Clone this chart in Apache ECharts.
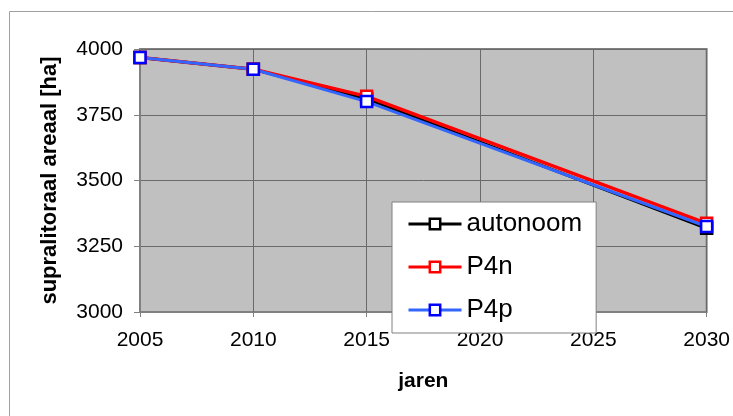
<!DOCTYPE html>
<html>
<head>
<meta charset="utf-8">
<script src="https://cdn.jsdelivr.net/npm/echarts@6/dist/echarts.min.js"></script>
<style>
  html, body { margin: 0; padding: 0; background: #fff; }
  #chart { width: 733px; height: 416px; }
</style>
</head>
<body>
<div id="chart"></div>
<script>
'use strict';

// jaren met meetpunten
var years = [2005, 2010, 2015, 2030];
var autonoom = [3968, 3923, 3810, 3318];
var p4n = [3968, 3923, 3820, 3337];
var p4p = [3968, 3923, 3800, 3325];

var seriesNames = ['autonoom', 'P4n', 'P4p'];
var yTicks = [3000, 3250, 3500, 3750, 4000];
var xTicks = [2005, 2010, 2015, 2020, 2025, 2030];

function pairs(xs, ys) {
    return xs.map(function(x, i) { return [x, ys[i]]; });
}

function makeSeries(name, values, lineColor, markColor, width) {
    return {
        name: name,
        type: 'line',
        data: pairs(years, values),
        symbol: 'rect',
        symbolSize: 11,
        showAllSymbol: true,
        lineStyle: { color: lineColor, width: width },
        itemStyle: { color: '#ffffff', borderColor: markColor, borderWidth: 2.5 }
    };
}

var font = 'Liberation Sans, Arial, sans-serif';
var myChart = echarts.init(document.getElementById('chart'));

var option = {
    animation: false,
    backgroundColor: '#ffffff',
    graphic: [{
        type: 'rect',
        shape: { x: 9.5, y: 11.5, width: 800, height: 500 },
        style: { fill: 'none', stroke: '#a0a0a0', lineWidth: 1 },
        silent: true
    }],
    grid: {
        left: 140, right: 24, top: 49, bottom: 104,
        show: true,
        backgroundColor: '#c0c0c0',
        borderColor: '#808080',
        borderWidth: 2
    },
    legend: {
        data: seriesNames,
        orient: 'vertical',
        left: 392,
        top: 202,
        padding: [7, 14, 8, 15],
        itemWidth: 53,
        itemHeight: 13,
        itemGap: 13,
        backgroundColor: '#ffffff',
        borderColor: '#808080',
        borderWidth: 1,
        lineStyle: { width: 3 },
        itemStyle: { borderWidth: 2.5 },
        textStyle: { fontFamily: font, fontSize: 26, color: '#000', lineHeight: 30 }
    },
    xAxis: {
        type: 'value',
        min: xTicks[0],
        max: xTicks[xTicks.length - 1],
        interval: 5,
        name: 'jaren',
        nameLocation: 'middle',
        nameGap: 59,
        nameTextStyle: { fontFamily: font, fontSize: 21, fontWeight: 'bold', color: '#000' },
        axisLine: { lineStyle: { color: '#808080', width: 1 } },
        axisTick: { show: true, length: 5, lineStyle: { color: '#808080' } },
        axisLabel: {
            fontFamily: font, fontSize: 21, color: '#000', margin: 18,
            formatter: function(v) { return String(v); }
        },
        splitLine: { show: true, lineStyle: { color: '#6a6a6a', width: 1 } }
    },
    yAxis: {
        type: 'value',
        min: yTicks[0],
        max: yTicks[yTicks.length - 1],
        interval: 250,
        name: 'supralitoraal areaal [ha]',
        nameLocation: 'middle',
        nameGap: 79,
        nameTextStyle: { fontFamily: font, fontSize: 22, fontWeight: 'bold', color: '#000' },
        axisLine: { show: true, lineStyle: { color: '#808080', width: 1 } },
        axisTick: { show: true, length: 6, lineStyle: { color: '#808080' } },
        axisLabel: {
            fontFamily: font, fontSize: 21, color: '#000', margin: 17,
            formatter: function(v) { return String(v); }
        },
        splitLine: { show: true, lineStyle: { color: '#6a6a6a', width: 1 } }
    },
    series: [
        makeSeries(seriesNames[0], autonoom, '#000000', '#000000', 3),
        makeSeries(seriesNames[1], p4n, '#ff0000', '#ff0000', 3.5),
        makeSeries(seriesNames[2], p4p, '#3366ff', '#0000ff', 3)
    ]
};

myChart.setOption(option);
</script>
</body>
</html>
